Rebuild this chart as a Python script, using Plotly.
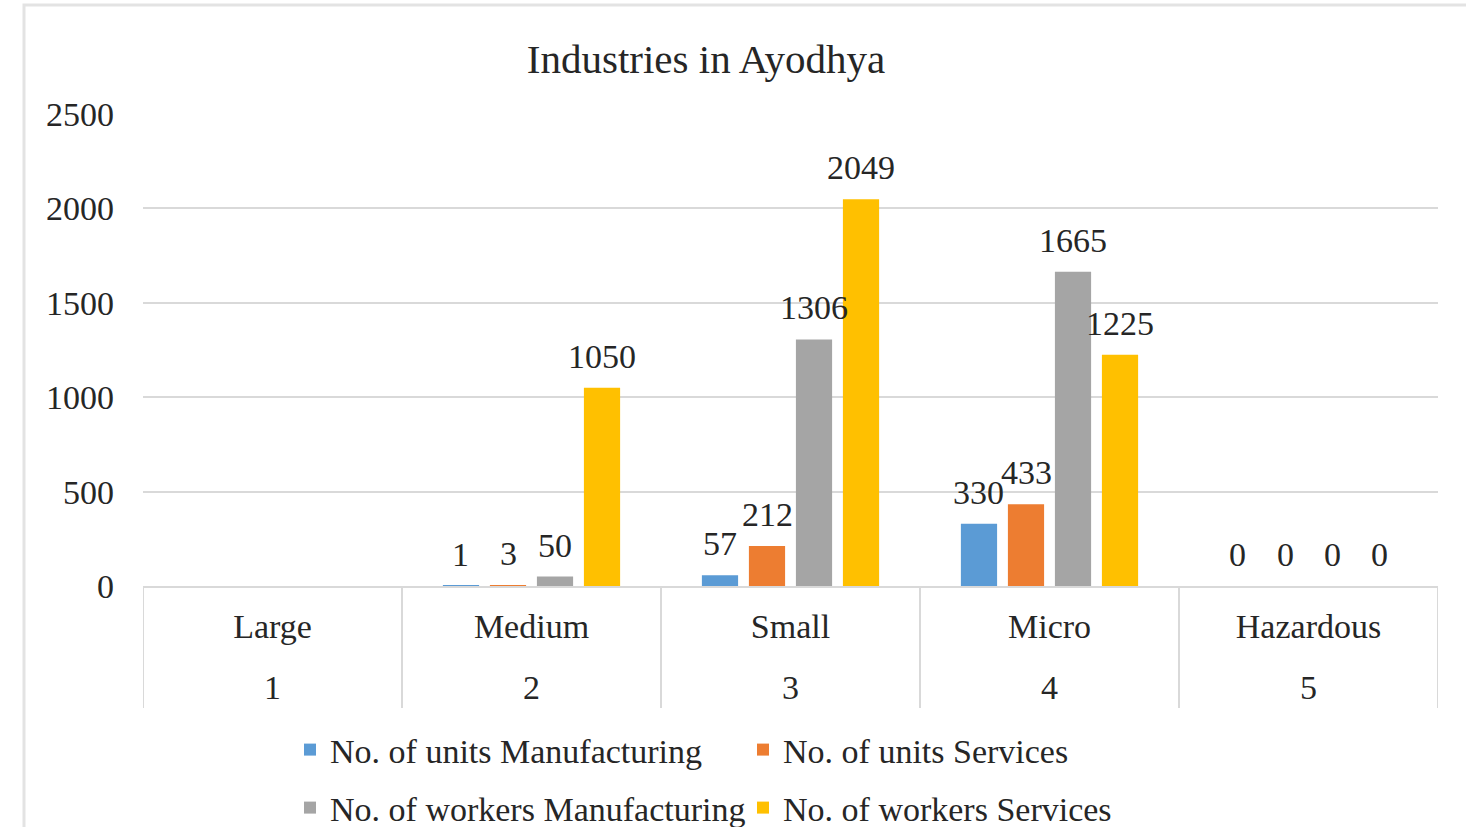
import plotly.graph_objects as go

# Enterprise size classes and their serial numbers shown beneath them
sizes = ["Large", "Medium", "Small", "Micro", "Hazardous"]
serial = ["1", "2", "3", "4", "5"]

# Counts per size class; Large has no recorded figures
units_manufacturing = [None, 1, 57, 330, 0]
units_services = [None, 3, 212, 433, 0]
workers_manufacturing = [None, 50, 1306, 1665, 0]
workers_services = [None, 1050, 2049, 1225, 0]

series_names = [
    "No. of units Manufacturing",
    "No. of units Services",
    "No. of workers Manufacturing",
    "No. of workers Services",
]
series_values = [units_manufacturing, units_services, workers_manufacturing, workers_services]
series_colors = ["#5B9BD5", "#ED7D31", "#A5A5A5", "#FFC000"]
series_legend = ["legend", "legend", "legend2", "legend2"]

FONT = "Liberation Serif, Times New Roman, serif"
TEXT = "#262626"
GRID = "#D9D9D9"

W, H = 1466, 827
L, R, T, B = 143, 28, 114, 241
plot_w = W - L - R
plot_h = H - T - B

BARGAP = 0.274
BARGROUPGAP = 0.23


def px_x(px):
    return (px - L) / plot_w


def px_y(py):
    return (H - B - py) / plot_h


fig = go.Figure()
for name, vals, color, lg in zip(series_names, series_values, series_colors, series_legend):
    fig.add_trace(
        go.Bar(
            x=sizes,
            y=vals,
            name=name,
            marker=dict(color=color, line=dict(width=0)),
            legend=lg,
            hovertemplate="%{x}: %{y}<extra>" + name + "</extra>",
        )
    )

annotations = []

# value labels above each bar, centred on its slot within the group
n_series = len(series_values)
slot = (1 - BARGAP) / n_series
for s, vals in enumerate(series_values):
    offset = (s - (n_series - 1) / 2) * slot
    for c, v in enumerate(vals):
        if v is None:
            continue
        annotations.append(
            dict(
                x=c + offset,
                y=v,
                xref="x",
                yref="y",
                text=str(v),
                showarrow=False,
                xanchor="center",
                yanchor="bottom",
                yshift=11,
                font=dict(family=FONT, size=34, color=TEXT),
            )
        )

# second row of category labels: serial numbers under each size class
for cat, num in zip(sizes, serial):
    annotations.append(
        dict(
            x=cat,
            y=px_y(687),
            xref="x",
            yref="paper",
            text=num,
            showarrow=False,
            xanchor="center",
            yanchor="middle",
            font=dict(family=FONT, size=34, color=TEXT),
        )
    )

# vertical dividers between categories through both label rows
shapes = [
    dict(
        type="line",
        xref="x",
        yref="paper",
        x0=i - 0.5,
        x1=i - 0.5,
        y0=0,
        y1=px_y(708),
        line=dict(color=GRID, width=2),
    )
    for i in range(len(sizes) + 1)
]
# outer chart frame
shapes.append(
    dict(
        type="rect",
        xref="paper",
        yref="paper",
        x0=px_x(24),
        x1=px_x(1500),
        y0=px_y(900),
        y1=px_y(5),
        line=dict(color="#E3E3E3", width=3),
        fillcolor="rgba(0,0,0,0)",
        layer="below",
    )
)

legend_common = dict(
    orientation="h",
    xanchor="left",
    yanchor="middle",
    font=dict(family=FONT, size=34, color=TEXT),
    entrywidth=408,
    entrywidthmode="pixels",
    bgcolor="rgba(0,0,0,0)",
    borderwidth=0,
    itemclick=False,
)

fig.update_layout(
    width=W,
    height=H,
    margin=dict(l=L, r=R, t=T, b=B, autoexpand=False),
    paper_bgcolor="white",
    plot_bgcolor="white",
    barmode="group",
    bargap=BARGAP,
    bargroupgap=BARGROUPGAP,
    title=dict(
        text="Industries in Ayodhya",
        font=dict(family=FONT, size=41, color=TEXT),
        x=706 / W,
        xref="container",
        xanchor="center",
        y=1 - 59 / H,
        yref="container",
        yanchor="middle",
    ),
    font=dict(family=FONT, size=34, color=TEXT),
    xaxis=dict(
        type="category",
        categoryorder="array",
        categoryarray=sizes,
        range=[-0.5, len(sizes) - 0.5],
        showline=True,
        linecolor=GRID,
        linewidth=2,
        showgrid=False,
        ticks="",
        ticklabelstandoff=9,
        tickfont=dict(family=FONT, size=34, color=TEXT),
    ),
    yaxis=dict(
        range=[0, 2500],
        dtick=500,
        showgrid=True,
        gridcolor=GRID,
        gridwidth=2,
        zeroline=False,
        showline=False,
        ticks="",
        ticklabelstandoff=28,
        tickfont=dict(family=FONT, size=34, color=TEXT),
    ),
    legend=dict(legend_common, x=px_x(290), y=px_y(750)),
    legend2=dict(legend_common, x=px_x(290), y=px_y(808)),
    shapes=shapes,
    annotations=annotations,
)

fig.write_html("out.html")
